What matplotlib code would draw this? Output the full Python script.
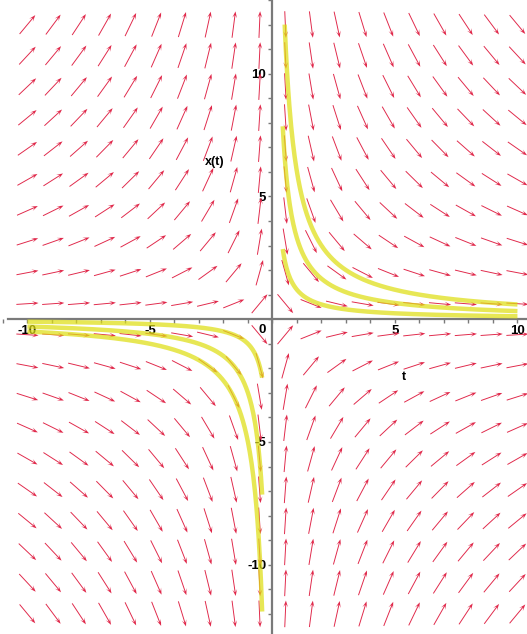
import numpy as np
import matplotlib
matplotlib.use("Agg")
import matplotlib.pyplot as plt
from matplotlib.ticker import MultipleLocator, FixedLocator

plt.rcParams["axes.unicode_minus"] = False

# Direction field of dx/dt = -x/t and a few solution curves x(t) = x0*t0/t
t_range = (-10.0, 10.0)        # field sample range along t
x_range = (-12.0, 12.0)        # field sample range along x
n_grid = 20                    # arrows per direction

# initial conditions (t0, x0) of the plotted solutions
ic_t0 = [1.0, 1.0, 1.0, -1.0, -1.0, -1.0]
ic_x0 = [1.2, 3.3, 6.0, -1.0, -3.0, -5.0]
t_near_zero = 0.42             # solutions are followed from |t| = 0.42 out to |t| = 10
t_far = 10.0

major_ticks_t = [-10, -5, 5, 10]
major_ticks_x = [-10, -5, 5, 10]


def slope(t, x):
    return -x / t


fig = plt.figure(figsize=(5.27, 6.34), dpi=100)
ax = fig.add_axes([0, 0, 1, 1])
ax.set_xlim(-11.12, 10.39)
ax.set_ylim(-12.82, 13.0)

# --- direction field ---
tg = np.linspace(*t_range, n_grid)
xg = np.linspace(*x_range, n_grid)
T, X = np.meshgrid(tg, xg)
F = slope(T, X)
dt = tg[1] - tg[0]
dx = xg[1] - xg[0]
ell = 0.86                      # arrow length in grid cells
gu, gv = 1.0 / dt, F / dx
norm = np.hypot(gu, gv)
U = ell * gu / norm * dt
V = ell * gv / norm * dx
ax.quiver(T, X, U, V, angles="xy", scale_units="xy", scale=1, pivot="middle",
          units="dots", width=0.95, headwidth=5.0, headlength=7.0,
          headaxislength=4.0, color="#e0284a", zorder=2)

# --- solution curves ---
for t0, x0 in zip(ic_t0, ic_x0):
    c = t0 * x0
    sgn = np.sign(t0)
    t_start = max(t_near_zero, abs(c) / 12.0)
    tt = sgn * np.linspace(t_start, t_far, 400)
    ax.plot(tt, c / tt, color="#dede14", lw=3.2, alpha=0.72,
            solid_capstyle="butt", zorder=3)

# --- axes through the origin ---
for side in ("top", "right"):
    ax.spines[side].set_visible(False)
ax.spines["left"].set_position(("data", 0))
ax.spines["bottom"].set_position(("data", 0))
ax.spines["bottom"].set_bounds(-10.8, 10.39)
for side in ("left", "bottom"):
    ax.spines[side].set_color("#7a7a7a")
    ax.spines[side].set_linewidth(1.6)
    ax.spines[side].set_zorder(1)

ax.xaxis.set_major_locator(FixedLocator(major_ticks_t))
ax.yaxis.set_major_locator(FixedLocator(major_ticks_x))
ax.xaxis.set_minor_locator(MultipleLocator(1))
ax.yaxis.set_minor_locator(MultipleLocator(1))
ax.tick_params(which="both", direction="out", length=3, width=1.0,
               color="#7a7a7a", pad=1.5)
ax.tick_params(labelsize=9.5)
for lab in ax.get_xticklabels() + ax.get_yticklabels():
    lab.set_fontweight("bold")
    lab.set_family("Liberation Sans")

ax.text(-0.25, -0.2, "0", ha="right", va="top", fontsize=9.5,
        fontweight="bold", family="Liberation Sans")
ax.text(-2.35, 6.39, "x(t)", ha="center", va="center", fontsize=9,
        fontweight="bold", family="Liberation Sans")
ax.text(5.37, -2.34, "t", ha="center", va="center", fontsize=9,
        fontweight="bold", family="Liberation Sans")

fig.savefig("out.png", dpi=100)
